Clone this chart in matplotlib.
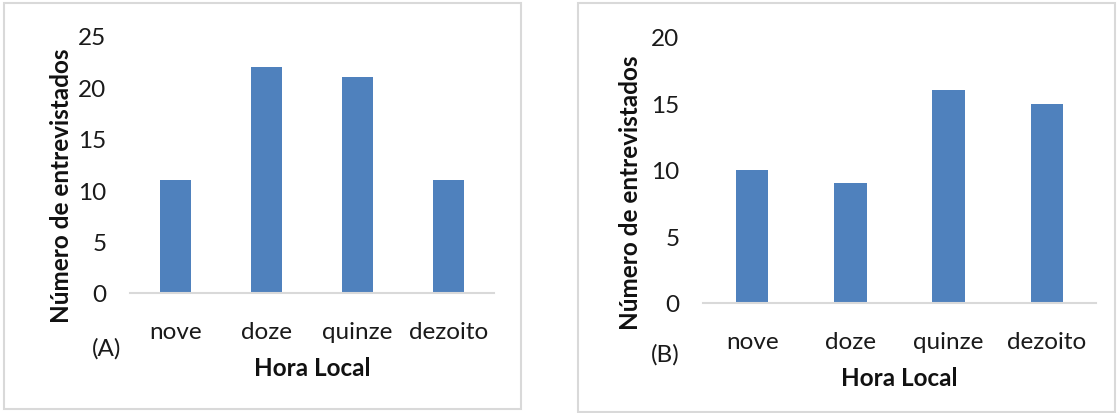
import matplotlib
matplotlib.use("Agg")
import matplotlib.pyplot as plt
from matplotlib.patches import Rectangle

horas = ["nove", "doze", "quinze", "dezoito"]
valores_a = [11, 22, 21, 11]
valores_b = [10, 9, 16, 15]
yticks_a = [0, 5, 10, 15, 20, 25]
yticks_b = [0, 5, 10, 15, 20]

plt.rcParams["font.family"] = ["Lato", "DejaVu Sans"]

W, H = 1120, 414
fig = plt.figure(figsize=(W / 100, H / 100), dpi=100)
fig.patch.set_facecolor("white")


def px(x0, y0, x1, y1):
    # pixel box (top-left origin) -> figure fraction
    return [x0 / W, 1 - y1 / H, (x1 - x0) / W, (y1 - y0) / H]


def painel(box, axbox, valores, yticks, letra, letra_xy, xlabel_y, ylabel_x):
    fig.patches.append(Rectangle((box[0], box[1]), box[2], box[3], transform=fig.transFigure,
                                 fill=False, edgecolor="#d9d9d9", linewidth=1.5))
    ax = fig.add_axes(axbox)
    x = range(len(horas))
    ax.bar(x, valores, width=0.33, color="#4f81bd", zorder=2)
    ax.set_xlim(-0.5, len(horas) - 0.5)
    ax.set_ylim(yticks[0], yticks[-1])
    ax.set_yticks(yticks)
    ax.set_xticks(list(x))
    ax.set_xticklabels(horas)
    for s in ["top", "right", "left"]:
        ax.spines[s].set_visible(False)
    ax.spines["bottom"].set_color("#d9d9d9")
    ax.spines["bottom"].set_linewidth(1.5)
    ax.tick_params(axis="both", length=0, labelsize=17.5, colors="#1a1a1a")
    ax.tick_params(axis="x", pad=20)
    ax.tick_params(axis="y", pad=17)
    ax.set_xlabel("Hora Local", fontsize=17.5, fontweight="bold", color="#111111", va="center")
    ax.set_ylabel("Número de entrevistados", fontsize=17.5, fontweight="bold", color="#111111", va="center")
    ax.xaxis.set_label_coords(0.5, xlabel_y)
    ax.yaxis.set_label_coords(ylabel_x, 0.42)
    fig.text(letra_xy[0] / W, 1 - letra_xy[1] / H, letra, fontsize=17.5, color="#1a1a1a",
             ha="center", va="center")
    return ax


painel(px(4, 4, 521, 410), px(130, 37, 494, 294), valores_a, yticks_a, "(A)",
       (107, 349), -0.29, -0.187)
painel(px(578, 4, 1115, 413), px(703, 38, 1096, 304), valores_b, yticks_b, "(B)",
       (665, 355), -0.28, -0.185)

fig.savefig("out.png", dpi=100)
